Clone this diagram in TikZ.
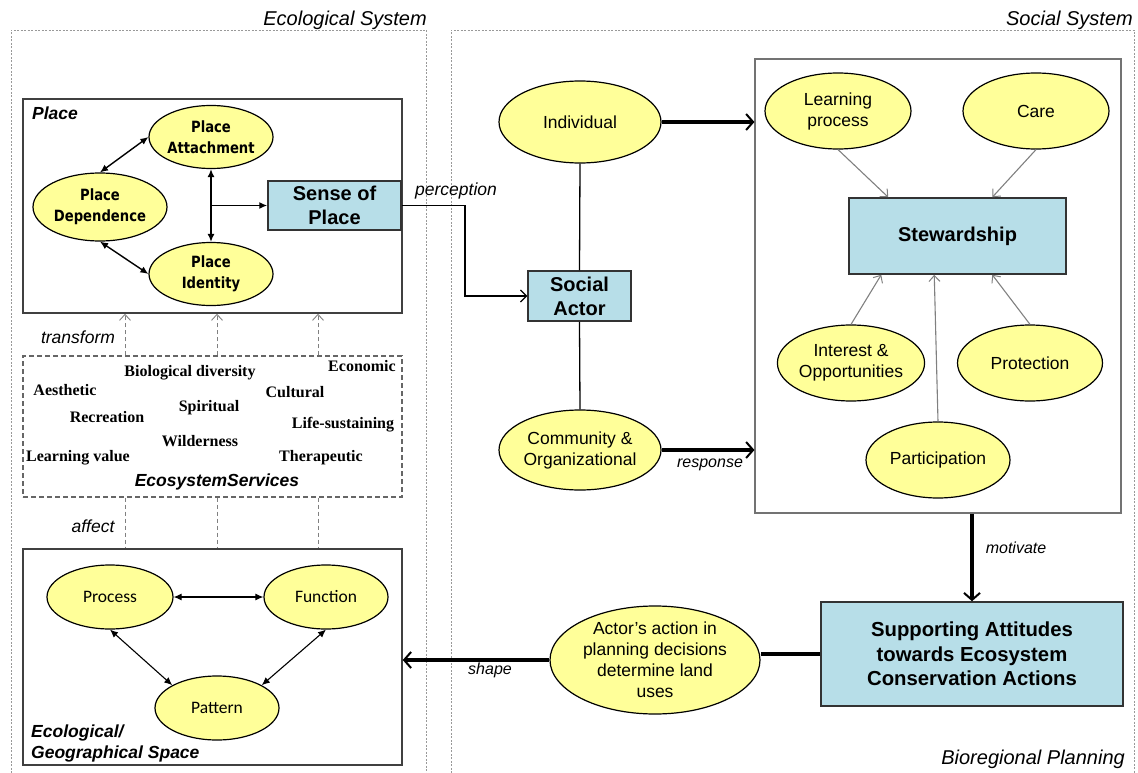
\documentclass[tikz,border=0pt]{standalone}
\usepackage{fontspec}
\setmainfont{Liberation Sans}
\newfontfamily\tahb[FakeStretch=0.85]{DejaVu Sans Bold}
\newfontfamily\calib{Carlito}
\newfontfamily\timesf{Liberation Serif}
\usetikzlibrary{shapes.geometric,arrows.meta,calc}
\definecolor{yel}{HTML}{FFFF99}
\definecolor{lblue}{HTML}{B7DEE8}
\begin{document}
\begin{tikzpicture}[x=1pt,y=-1pt,
  yell/.style={ellipse, draw=black, line width=1.2pt, fill=yel, inner sep=0pt, align=center, font=\fontsize{17.5}{21}\selectfont},
  plc/.style={yell, font=\tahb\fontsize{15.5}{21}\selectfont},
  eco/.style={yell, font=\calib\fontsize{17.5}{20}\selectfont},
  bluebox/.style={rectangle, draw=black!80, line width=1.5pt, fill=lblue, inner sep=0pt, align=center},
  frame/.style={rectangle, draw=black!75, line width=1.5pt, inner sep=0pt},
  outer/.style={draw=black!40, line width=0.8pt, dash pattern=on 2pt off 1.5pt},
  svcword/.style={font=\timesf\bfseries\fontsize{16}{19}\selectfont, inner sep=0pt},
  lbl/.style={font=\itshape\fontsize{17.5}{21}\selectfont, inner sep=0pt},
  slbl/.style={font=\itshape\fontsize{16}{19}\selectfont, inner sep=0pt},
  title/.style={font=\itshape\fontsize{20}{24}\selectfont, inner sep=0pt},
  biarr/.style={line width=1.4pt, {Latex[length=8pt,width=7pt]}-{Latex[length=8pt,width=7pt]}},
  onearr/.style={line width=1.4pt, -{Latex[length=8pt,width=7pt]}},
  thickarr/.style={line width=3.5pt, -{Straight Barb[length=7pt,width=16pt,line width=2pt]}},
  grayarr/.style={draw=black!50, line width=1.1pt, -{Straight Barb[length=6pt,width=11pt,line width=1pt]}},
  dashgray/.style={draw=black!50, line width=0.9pt, dash pattern=on 4pt off 3pt}
]
\useasboundingbox (0,0) rectangle (1138,773);

% outer system frames
\draw[outer] (11,773) -- (11,30) -- (426,30) -- (426,773);
\draw[outer] (451,773) -- (451,30) -- (1134,30) -- (1134,773);
\node[title, anchor=east] (ecotitle) at (427,20) {Ecological System};
\node[title, anchor=east] (soctitle) at (1133,20) {Social System};
\node[title, anchor=east] (biotitle) at (1125,759) {Bioregional Planning};

% Place box
\node[frame, minimum width=379, minimum height=214] (place) at (212.5,206) {};
\node[font=\bfseries\itshape\fontsize{17.5}{21}\selectfont, inner sep=0pt, anchor=west] (placelbl) at (32,113) {Place};
\node[plc, minimum width=124, minimum height=63] (att) at (211,137) {Place\\Attachment};
\node[plc, minimum width=134, minimum height=68] (dep) at (100,207) {Place\\Dependence};
\node[plc, minimum width=124, minimum height=63] (ide) at (211,274) {Place\\Identity};
\node[bluebox, minimum width=133, minimum height=49, font=\bfseries\fontsize{20}{24}\selectfont] (sense) at (334.5,205.5) {Sense of\\Place};
\draw[biarr] (att.west) -- (dep.north);
\draw[biarr] (dep.south) -- (ide.west);
\draw[biarr] (att.south) -- (ide.north);
\coordinate (junc) at ($(att.south)!0.5!(ide.north)$);
\draw[onearr] (junc) -- (junc -| sense.west);

% Ecosystem services
\node[draw=black!60, line width=1.3pt, dash pattern=on 5pt off 3pt, minimum width=379, minimum height=141, inner sep=0pt] (svc) at (212.5,426.5) {};
\node[svcword] (w1) at (190,373) {Biological diversity};
\node[svcword] (w2) at (362,366) {Economic};
\node[svcword] (w3) at (65,390) {Aesthetic};
\node[svcword] (w4) at (295,392) {Cultural};
\node[svcword] (w5) at (107,417) {Recreation};
\node[svcword] (w6) at (209,408) {Spiritual};
\node[svcword] (w7) at (343,425) {Life-sustaining};
\node[svcword] (w8) at (200,441) {Wilderness};
\node[svcword] (w9) at (78,458) {Learning value};
\node[svcword] (w10) at (321,458) {Therapeutic};
\node[font=\bfseries\itshape\fontsize{17.5}{21}\selectfont, inner sep=0pt] (svclbl) at (217,482) {EcosystemServices};

% Geographical space
\node[frame, minimum width=379, minimum height=216] (geo) at (212.5,657) {};
\node[eco, minimum width=126, minimum height=64] (proc) at (110,597) {Process};
\node[eco, minimum width=124, minimum height=64] (func) at (326,597) {Function};
\node[eco, minimum width=124, minimum height=64] (pat) at (217,708) {Pattern};
\draw[biarr, line width=1.1pt] (proc.east) -- (func.west);
\draw[biarr, line width=1.1pt] (proc.south) -- (pat.153);
\draw[biarr, line width=1.1pt] (func.south) -- (pat.27);
\node[font=\bfseries\itshape\fontsize{17.5}{21}\selectfont, inner sep=0pt, anchor=west, align=left] (geolbl) at (31,743.5) {Ecological/\\Geographical Space};

% transform / affect
\coordinate (c1) at (125,0);
\coordinate (c2) at (217,0);
\coordinate (c3) at (318,0);
\foreach \c in {c1,c2,c3}{
  \draw[dashgray, -{Straight Barb[length=6pt,width=11pt,line width=0.9pt]}] (svc.north -| \c) -- (place.south -| \c);
  \draw[dashgray] (svc.south -| \c) -- (geo.north -| \c);
}
\node[lbl] (transf) at (78,337) {transform};
\node[lbl] (affect) at (93,526) {affect};

% Social side
\node[yell, minimum width=162, minimum height=82] (ind) at (580,122) {Individual};
\node[bluebox, minimum width=103, minimum height=50, font=\bfseries\fontsize{20}{24}\selectfont] (sa) at (579.5,296) {Social\\Actor};
\node[yell, minimum width=162, minimum height=80] (com) at (580,450) {Community \&\\Organizational};
\draw[line width=1.3pt] (ind.south) -- (sa.north);
\draw[line width=1.3pt] (sa.south) -- (com.north);

% perception
\coordinate (pc) at (465,0);
\draw[line width=1.3pt, -{Straight Barb[length=6pt,width=12pt,line width=1.1pt]}] (sense.east) -- (sense.east -| pc) |- (sa.west);
\node[lbl] (perc) at (456,191) {perception};

% Stewardship cluster
\node[rectangle, draw=black!55, line width=1.1pt, minimum width=366, minimum height=454, inner sep=0pt] (stewbox) at (938,286) {};
\node[yell, minimum width=146, minimum height=76] (lp) at (838,111) {Learning\\process};
\node[yell, minimum width=146, minimum height=76] (care) at (1036,111) {Care};
\node[bluebox, minimum width=217, minimum height=76, font=\bfseries\fontsize{20}{24}\selectfont] (stew) at (957.5,236) {Stewardship};
\node[yell, minimum width=144, minimum height=76] (int) at (851,363) {Interest \&\\Opportunities};
\node[yell, minimum width=145, minimum height=76] (prot) at (1030,363) {Protection};
\node[yell, minimum width=144, minimum height=76] (part) at (938,460) {Participation};
\draw[grayarr] (lp.south) -- ([xshift=40pt]stew.north west);
\draw[grayarr] (care.south) -- ([xshift=144pt]stew.north west);
\draw[grayarr] (int.north) -- ([xshift=33pt]stew.south west);
\draw[grayarr] (part.north) -- ([xshift=86pt]stew.south west);
\draw[grayarr] (prot.north) -- ([xshift=144pt]stew.south west);

% thick arrows
\draw[thickarr] (ind.east) -- (ind.east -| stewbox.west);
\draw[thickarr] (com.east) -- (com.east -| stewbox.west);
\node[slbl] (resp) at (710,465) {response};

\node[bluebox, minimum width=302, minimum height=104, font=\bfseries\fontsize{20.3}{24.5}\selectfont] (supp) at (972,654) {Supporting Attitudes\\towards Ecosystem\\Conservation Actions};
\draw[thickarr] (supp.north |- stewbox.south) -- (supp.north);
\node[slbl] (motiv) at (1016,548) {motivate};

\node[yell, minimum width=210, minimum height=108] (actor) at (655,660) {};
\node[font=\fontsize{17.5}{21}\selectfont, align=center, inner sep=0pt] (actortxt) at (actor) {Actor’s action in\\planning decisions\\determine land\\uses};
\draw[line width=3.5pt] (supp.west) -- (supp.west -| actor.east);
\draw[thickarr] (actor.west) -- (actor.west -| geo.east);
\node[slbl] (shape) at (490,670) {shape};
\end{tikzpicture}
\end{document}
